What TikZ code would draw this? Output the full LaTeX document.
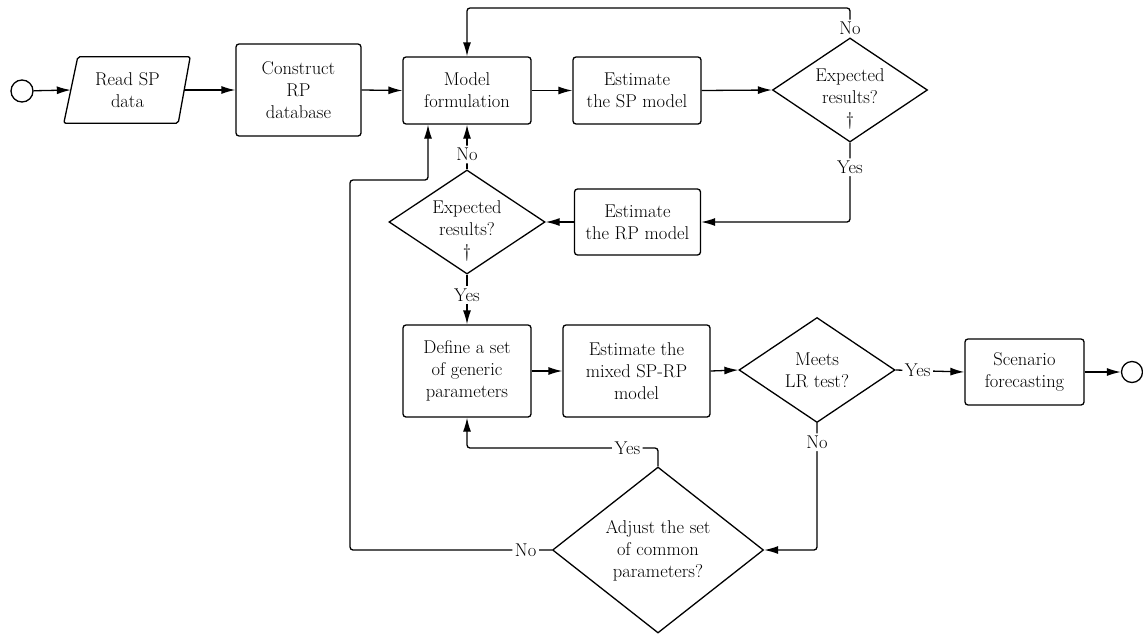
\documentclass[tikz,border=0pt]{standalone}
\usepackage{fontspec}
\setmainfont{Latin Modern Roman}
\usetikzlibrary{shapes.geometric,arrows.meta}
\begin{document}
\begin{tikzpicture}[x=1pt,y=-1pt,
  every node/.style={font=\rmfamily\fontsize{18.5}{22}\selectfont},
  box/.style={draw, rounded corners=3pt, line width=1.3pt, align=center, inner sep=0pt},
  dia/.style={draw, diamond, line width=1.3pt, inner sep=0pt},
  txt/.style={align=center, inner sep=0pt},
  lab/.style={fill=white, inner sep=2.5pt},
  conn/.style={line width=1.3pt, rounded corners=3pt},
  arr/.style={conn, -{Latex[length=14pt,width=8pt]}},
  term/.style={draw, circle, line width=1.3pt, inner sep=0pt}]
\useasboundingbox (0,0) rectangle (1143,635);

% terminals
\node[term, minimum size=22pt] (start) at (22,91) {};
\node[term, minimum size=21pt] (stop) at (1132,372) {};

% input parallelogram
\node[txt, minimum width=113pt, minimum height=66pt] (readsp) at (127.5,90) {Read SP\\data};
\draw[line width=1.3pt, rounded corners=2pt]
  ([xshift=7pt]readsp.north west) -- ([xshift=6pt]readsp.north east) --
  ([xshift=-6pt]readsp.south east) -- ([xshift=-7pt]readsp.south west) -- cycle;

% boxes
\node[box, minimum width=125pt, minimum height=92pt] (construct) at (298.5,90) {Construct\\RP\\database};
\node[box, minimum width=128pt, minimum height=67pt] (model) at (467,90.5) {Model\\formulation};
\node[box, minimum width=128pt, minimum height=67pt] (estsp) at (637,90.5) {Estimate\\the SP model};
\node[box, minimum width=126pt, minimum height=66pt] (estrp) at (637.5,222) {Estimate\\the RP model};
\node[box, minimum width=128pt, minimum height=92pt] (define) at (467,371) {Define a set\\of generic\\parameters};
\node[box, minimum width=147pt, minimum height=92pt] (mixed) at (636.5,371) {Estimate the\\mixed SP-RP\\model};
\node[box, minimum width=119pt, minimum height=66pt] (scen) at (1024.5,372) {Scenario\\forecasting};

% decisions
\node[dia, minimum width=155pt, minimum height=104pt] (d1) at (850,90) {};
\node[txt] (d1t) at (850,99) {Expected\\results?\\\textdagger};
\node[dia, minimum width=156pt, minimum height=104pt] (d2) at (467,222) {};
\node[txt] (d2t) at (467,231) {Expected\\results?\\\textdagger};
\node[dia, minimum width=156pt, minimum height=105pt] (d3) at (817,370) {};
\node[txt] (d3t) at (817,370) {Meets\\LR test?};
\node[dia, minimum width=211pt, minimum height=166pt] (d4) at (658,550) {};
\node[txt] (d4t) at (658,551) {Adjust the set\\of common\\parameters?};

% corner coordinates
\coordinate (c1) at (850,8);
\coordinate (c2) at (850,222);
\coordinate (c3) at (817,550);
\coordinate (c4) at (658,448);
\coordinate (c5) at (350,550);
\coordinate (c6) at (350,180);
\coordinate (c7) at (428,180);

% connectors
\draw[arr] (start) -- (readsp.west);
\draw[arr] (readsp.east) -- (construct.west);
\draw[arr] (construct.east) -- (model.west);
\draw[arr] (model.east) -- (estsp.west);
\draw[arr] (estsp.east) -- (d1.west);
\draw[arr] (d1.north) -- node[lab, pos=.3] {No} (c1) -| (model.north);
\draw[arr] (d1.south) -- node[lab, pos=.31] {Yes} (c2) -- (estrp.east);
\draw[arr] (estrp.west) -- (d2.east);
\draw[arr] (d2.north) -- node[lab, pos=.33] {No} (d2.north |- model.south);
\draw[arr] (d2.south) -- node[lab, pos=.41] {Yes} (define.north);
\draw[arr] (define.east) -- (mixed.west);
\draw[arr] (mixed.east) -- (d3.west);
\draw[arr] (d3.east) -- node[lab, pos=.32] {Yes} (scen.west);
\draw[arr] (scen.east) -- (stop);
\draw[arr] (d3.south) -- node[lab, pos=.15] {No} (c3) -- (d4.east);
\draw[arr] (d4.north) -- (c4) -- node[lab, pos=.16] {Yes} (c4 -| define.south) -- (define.south);
\draw[arr] (d4.west) -- node[lab, pos=.13] {No} (c5) -- (c6) -- (c7) -- (c7 |- model.south);
\end{tikzpicture}
\end{document}
